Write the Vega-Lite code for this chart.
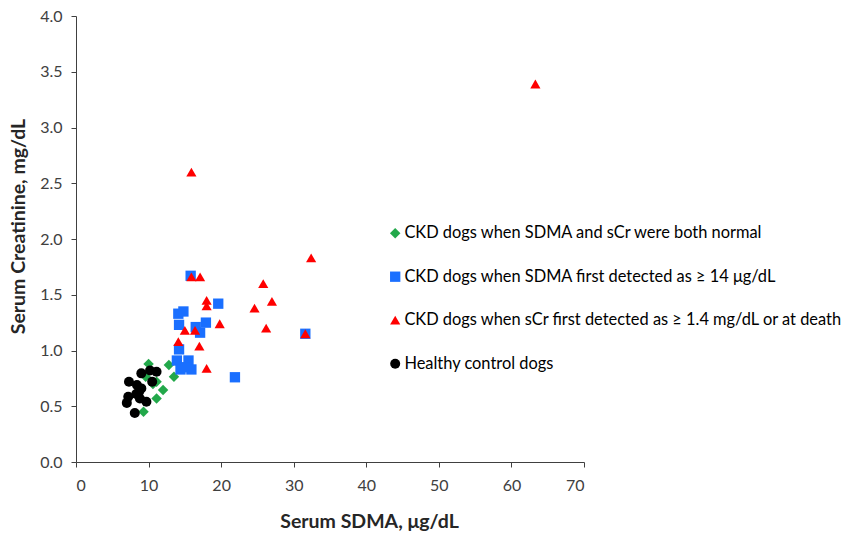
{
  "$schema": "https://vega.github.io/schema/vega-lite/v6.json",
  "autosize": {"type": "none"},
  "padding": {"left": 76, "top": 16, "right": 261, "bottom": 76},
  "width": 508,
  "height": 446,
  "background": "white",
  "config": {
    "view": {"stroke": null},
    "font": "Lato"
  },
  "data": {
    "values": [
      {"g": "CKD dogs when SDMA and sCr were both normal", "sdma": 10.0, "scr": 0.88},
      {"g": "CKD dogs when SDMA and sCr were both normal", "sdma": 12.8, "scr": 0.87},
      {"g": "CKD dogs when SDMA and sCr were both normal", "sdma": 13.5, "scr": 0.765},
      {"g": "CKD dogs when SDMA and sCr were both normal", "sdma": 9.6, "scr": 0.765},
      {"g": "CKD dogs when SDMA and sCr were both normal", "sdma": 11.1, "scr": 0.72},
      {"g": "CKD dogs when SDMA and sCr were both normal", "sdma": 10.6, "scr": 0.7},
      {"g": "CKD dogs when SDMA and sCr were both normal", "sdma": 12.0, "scr": 0.645},
      {"g": "CKD dogs when SDMA and sCr were both normal", "sdma": 11.1, "scr": 0.57},
      {"g": "CKD dogs when SDMA and sCr were both normal", "sdma": 9.3, "scr": 0.45},
      {"g": "CKD dogs when SDMA first detected as ≥ 14 μg/dL", "sdma": 15.8, "scr": 1.67},
      {"g": "CKD dogs when SDMA first detected as ≥ 14 μg/dL", "sdma": 19.6, "scr": 1.42},
      {"g": "CKD dogs when SDMA first detected as ≥ 14 μg/dL", "sdma": 14.1, "scr": 1.33},
      {"g": "CKD dogs when SDMA first detected as ≥ 14 μg/dL", "sdma": 14.8, "scr": 1.35},
      {"g": "CKD dogs when SDMA first detected as ≥ 14 μg/dL", "sdma": 17.9, "scr": 1.25},
      {"g": "CKD dogs when SDMA first detected as ≥ 14 μg/dL", "sdma": 14.2, "scr": 1.23},
      {"g": "CKD dogs when SDMA first detected as ≥ 14 μg/dL", "sdma": 16.5, "scr": 1.21},
      {"g": "CKD dogs when SDMA first detected as ≥ 14 μg/dL", "sdma": 17.1, "scr": 1.16},
      {"g": "CKD dogs when SDMA first detected as ≥ 14 μg/dL", "sdma": 31.6, "scr": 1.15},
      {"g": "CKD dogs when SDMA first detected as ≥ 14 μg/dL", "sdma": 14.2, "scr": 1.01},
      {"g": "CKD dogs when SDMA first detected as ≥ 14 μg/dL", "sdma": 13.9, "scr": 0.91},
      {"g": "CKD dogs when SDMA first detected as ≥ 14 μg/dL", "sdma": 15.5, "scr": 0.91},
      {"g": "CKD dogs when SDMA first detected as ≥ 14 μg/dL", "sdma": 14.4, "scr": 0.83},
      {"g": "CKD dogs when SDMA first detected as ≥ 14 μg/dL", "sdma": 15.9, "scr": 0.83},
      {"g": "CKD dogs when SDMA first detected as ≥ 14 μg/dL", "sdma": 15.0, "scr": 0.85},
      {"g": "CKD dogs when SDMA first detected as ≥ 14 μg/dL", "sdma": 21.9, "scr": 0.76},
      {"g": "CKD dogs when sCr first detected as ≥ 1.4 mg/dL or at death", "sdma": 63.3, "scr": 3.39},
      {"g": "CKD dogs when sCr first detected as ≥ 1.4 mg/dL or at death", "sdma": 15.9, "scr": 2.6},
      {"g": "CKD dogs when sCr first detected as ≥ 1.4 mg/dL or at death", "sdma": 32.4, "scr": 1.83},
      {"g": "CKD dogs when sCr first detected as ≥ 1.4 mg/dL or at death", "sdma": 15.9, "scr": 1.66},
      {"g": "CKD dogs when sCr first detected as ≥ 1.4 mg/dL or at death", "sdma": 17.1, "scr": 1.66},
      {"g": "CKD dogs when sCr first detected as ≥ 1.4 mg/dL or at death", "sdma": 25.8, "scr": 1.6},
      {"g": "CKD dogs when sCr first detected as ≥ 1.4 mg/dL or at death", "sdma": 18.0, "scr": 1.45},
      {"g": "CKD dogs when sCr first detected as ≥ 1.4 mg/dL or at death", "sdma": 18.0, "scr": 1.4},
      {"g": "CKD dogs when sCr first detected as ≥ 1.4 mg/dL or at death", "sdma": 27.0, "scr": 1.44},
      {"g": "CKD dogs when sCr first detected as ≥ 1.4 mg/dL or at death", "sdma": 24.6, "scr": 1.38},
      {"g": "CKD dogs when sCr first detected as ≥ 1.4 mg/dL or at death", "sdma": 19.8, "scr": 1.24},
      {"g": "CKD dogs when sCr first detected as ≥ 1.4 mg/dL or at death", "sdma": 15.0, "scr": 1.18},
      {"g": "CKD dogs when sCr first detected as ≥ 1.4 mg/dL or at death", "sdma": 16.4, "scr": 1.18},
      {"g": "CKD dogs when sCr first detected as ≥ 1.4 mg/dL or at death", "sdma": 26.2, "scr": 1.2},
      {"g": "CKD dogs when sCr first detected as ≥ 1.4 mg/dL or at death", "sdma": 31.6, "scr": 1.15},
      {"g": "CKD dogs when sCr first detected as ≥ 1.4 mg/dL or at death", "sdma": 14.1, "scr": 1.08},
      {"g": "CKD dogs when sCr first detected as ≥ 1.4 mg/dL or at death", "sdma": 17.0, "scr": 1.04},
      {"g": "CKD dogs when sCr first detected as ≥ 1.4 mg/dL or at death", "sdma": 18.0, "scr": 0.84},
      {"g": "Healthy control dogs", "sdma": 9.0, "scr": 0.795},
      {"g": "Healthy control dogs", "sdma": 10.2, "scr": 0.82},
      {"g": "Healthy control dogs", "sdma": 11.1, "scr": 0.81},
      {"g": "Healthy control dogs", "sdma": 10.5, "scr": 0.72},
      {"g": "Healthy control dogs", "sdma": 7.3, "scr": 0.72},
      {"g": "Healthy control dogs", "sdma": 8.4, "scr": 0.69},
      {"g": "Healthy control dogs", "sdma": 9.0, "scr": 0.66},
      {"g": "Healthy control dogs", "sdma": 8.7, "scr": 0.63},
      {"g": "Healthy control dogs", "sdma": 8.3, "scr": 0.61},
      {"g": "Healthy control dogs", "sdma": 7.2, "scr": 0.585},
      {"g": "Healthy control dogs", "sdma": 8.8, "scr": 0.57},
      {"g": "Healthy control dogs", "sdma": 7.0, "scr": 0.53},
      {"g": "Healthy control dogs", "sdma": 9.7, "scr": 0.54},
      {"g": "Healthy control dogs", "sdma": 8.1, "scr": 0.44}
    ]
  },
  "mark": {"type": "point", "filled": true, "opacity": 1, "strokeWidth": 0},
  "encoding": {
    "x": {
      "field": "sdma", "type": "quantitative",
      "scale": {"domain": [0, 70], "nice": false, "zero": true},
      "axis": {
        "title": "Serum SDMA, μg/dL",
        "values": [0, 10, 20, 30, 40, 50, 60, 70],
        "grid": false,
        "domainColor": "#404040",
        "tickColor": "#404040",
        "tickSize": 5,
        "labelFontSize": 16,
        "labelColor": "#404040",
        "labelPadding": 10,
        "titleFontSize": 19.5,
        "titleFontWeight": "bold",
        "titleColor": "#262626",
        "titleX": 293,
        "titleY": 59,
        "titleBaseline": "middle",
        "titleAlign": "center"
      }
    },
    "y": {
      "field": "scr", "type": "quantitative",
      "scale": {"domain": [0, 4], "nice": false},
      "axis": {
        "title": "Serum Creatinine, mg/dL",
        "values": [0, 0.5, 1, 1.5, 2, 2.5, 3, 3.5, 4],
        "format": ".1f",
        "grid": false,
        "domainColor": "#404040",
        "tickColor": "#404040",
        "tickSize": 5,
        "labelFontSize": 16,
        "labelColor": "#404040",
        "labelPadding": 9,
        "titleFontSize": 19.5,
        "titleFontWeight": "bold",
        "titleColor": "#262626",
        "titleX": -58,
        "titleY": 210,
        "titleBaseline": "middle",
        "titleAlign": "center",
        "titleAngle": -90
      }
    },
    "shape": {
      "field": "g", "type": "nominal",
      "scale": {
        "domain": ["CKD dogs when SDMA and sCr were both normal", "CKD dogs when SDMA first detected as ≥ 14 μg/dL", "CKD dogs when sCr first detected as ≥ 1.4 mg/dL or at death", "Healthy control dogs"],
        "range": ["diamond", "square", "triangle-up", "circle"]
      },
      "legend": {
        "title": null,
        "orient": "none",
        "legendX": 311,
        "legendY": 209,
        "padding": 0,
        "rowPadding": 26.5,
        "labelFontSize": 16.4,
        "labelColor": "#000000",
        "labelOffset": 1,
        "labelLimit": 600
      }
    },
    "color": {
      "field": "g", "type": "nominal",
      "scale": {
        "domain": ["CKD dogs when SDMA and sCr were both normal", "CKD dogs when SDMA first detected as ≥ 14 μg/dL", "CKD dogs when sCr first detected as ≥ 1.4 mg/dL or at death", "Healthy control dogs"],
        "range": ["#22a84a", "#1a6fff", "#ff0000", "#000000"]
      }
    },
    "size": {
      "field": "g", "type": "nominal",
      "scale": {
        "domain": ["CKD dogs when SDMA and sCr were both normal", "CKD dogs when SDMA first detected as ≥ 14 μg/dL", "CKD dogs when sCr first detected as ≥ 1.4 mg/dL or at death", "Healthy control dogs"],
        "range": [110, 100, 170, 65]
      }
    }
  }
}
